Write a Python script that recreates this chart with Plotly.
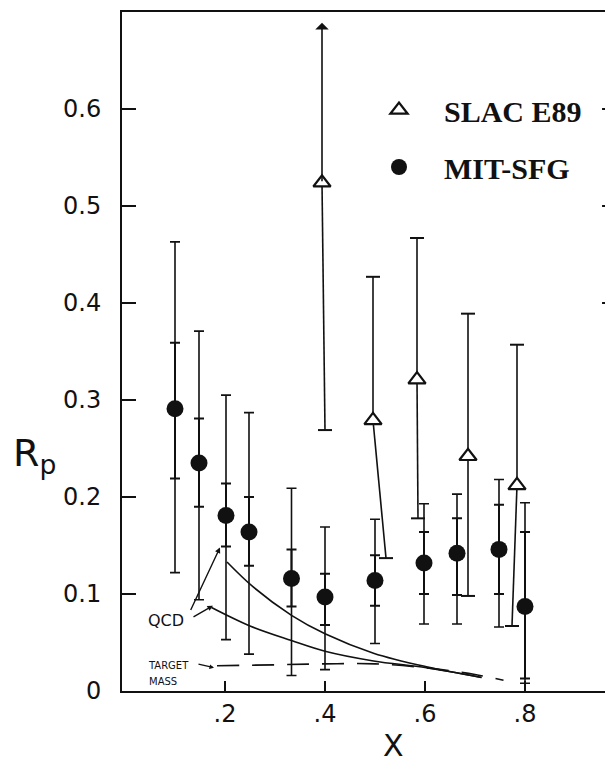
import plotly.graph_objects as go

# ---------------- data ----------------
# MIT-SFG (filled circles): x, value, outer error range, inner error range
mit_x = [0.10, 0.148, 0.202, 0.248, 0.333, 0.40, 0.50, 0.598, 0.664, 0.748, 0.80]
mit_y = [0.291, 0.235, 0.181, 0.164, 0.116, 0.097, 0.114, 0.132, 0.142, 0.146, 0.087]
mit_outer_hi = [0.463, 0.371, 0.305, 0.287, 0.209, 0.169, 0.177, 0.193, 0.203, 0.218, 0.194]
mit_outer_lo = [0.122, 0.094, 0.053, 0.038, 0.016, 0.022, 0.049, 0.069, 0.069, 0.066, 0.008]
mit_inner_hi = [0.359, 0.281, 0.214, 0.200, 0.146, 0.121, 0.140, 0.164, 0.178, 0.192, 0.164]
mit_inner_lo = [0.219, 0.190, 0.149, 0.129, 0.087, 0.068, 0.088, 0.100, 0.099, 0.100, 0.013]

# SLAC E89 (open triangles)
slac_x = [0.394, 0.496, 0.584, 0.686, 0.784]
slac_y = [0.524, 0.279, 0.321, 0.242, 0.212]
slac_hi = [0.689, 0.427, 0.467, 0.389, 0.357]
slac_hi_is_limit = [True, False, False, False, False]
slac_lo = [0.269, 0.137, 0.178, 0.098, 0.067]
slac_lo_x = [0.400, 0.522, 0.586, 0.686, 0.774]

# theory curves
qcd_upper_x = [0.204, 0.257, 0.333, 0.40, 0.497, 0.603, 0.713]
qcd_upper_y = [0.133, 0.107, 0.078, 0.059, 0.039, 0.025, 0.014]
qcd_lower_x = [0.173, 0.25, 0.333, 0.40, 0.497, 0.603, 0.713]
qcd_lower_y = [0.086, 0.067, 0.052, 0.041, 0.031, 0.024, 0.014]
tm_x = [0.184, 0.30, 0.40, 0.50, 0.60, 0.70, 0.757]
tm_y = [0.026, 0.027, 0.028, 0.028, 0.024, 0.017, 0.011]

# axis ticks
y_ticks = [0, 0.1, 0.2, 0.3, 0.4, 0.5, 0.6]
y_ticktext = ["0", "0.1", "0.2", "0.3", "0.4", "0.5", "0.6"]
x_ticks = [0.2, 0.4, 0.6, 0.8]
x_ticktext = [".2", ".4", ".6", ".8"]
right_ticks = [0.4, 0.5, 0.6]

INK = "#111111"
HAND = "DejaVu Sans"
SERIF = "Liberation Serif"

fig = go.Figure()

# theory curves
fig.add_trace(go.Scatter(x=qcd_upper_x, y=qcd_upper_y, mode="lines",
                         line=dict(color=INK, width=1.6, shape="spline"),
                         showlegend=False, hoverinfo="skip"))
fig.add_trace(go.Scatter(x=qcd_lower_x, y=qcd_lower_y, mode="lines",
                         line=dict(color=INK, width=1.6, shape="spline"),
                         showlegend=False, hoverinfo="skip"))
fig.add_trace(go.Scatter(x=tm_x, y=tm_y, mode="lines",
                         line=dict(color=INK, width=1.6, shape="spline", dash="22px,13px"),
                         showlegend=False, hoverinfo="skip"))

# MIT inner error ticks
fig.add_trace(go.Scatter(
    x=mit_x, y=mit_y, mode="markers", marker=dict(size=1, color="rgba(0,0,0,0)"),
    error_y=dict(type="data", symmetric=False,
                 array=[h - v for h, v in zip(mit_inner_hi, mit_y)],
                 arrayminus=[v - l for l, v in zip(mit_inner_lo, mit_y)],
                 color=INK, thickness=2, width=5),
    showlegend=False, hoverinfo="skip"))

# MIT outer error bars + markers
fig.add_trace(go.Scatter(
    x=mit_x, y=mit_y, mode="markers", name="MIT-SFG", legendgroup="b", legendrank=2,
    marker=dict(symbol="circle", size=17, color=INK),
    error_y=dict(type="data", symmetric=False,
                 array=[h - v for h, v in zip(mit_outer_hi, mit_y)],
                 arrayminus=[v - l for l, v in zip(mit_outer_lo, mit_y)],
                 color=INK, thickness=1.6, width=5)))

# SLAC error segments (upper, non-limit) and lower (possibly slanted)
seg_x, seg_y, cap_x, cap_y = [], [], [], []
for xi, yi, hi, lim, lo, lox in zip(slac_x, slac_y, slac_hi, slac_hi_is_limit, slac_lo, slac_lo_x):
    if not lim:
        seg_x += [xi, xi, None]
        seg_y += [yi, hi, None]
        cap_x.append(xi)
        cap_y.append(hi)
    seg_x += [xi, lox, None]
    seg_y += [yi, lo, None]
    cap_x.append(lox)
    cap_y.append(lo)

fig.add_trace(go.Scatter(x=seg_x, y=seg_y, mode="lines",
                         line=dict(color=INK, width=1.6),
                         showlegend=False, hoverinfo="skip"))
fig.add_trace(go.Scatter(x=cap_x, y=cap_y, mode="markers",
                         marker=dict(symbol="line-ew", size=10, line=dict(color=INK, width=2)),
                         showlegend=False, hoverinfo="skip"))

for xi, yi, hi, lim in zip(slac_x, slac_y, slac_hi, slac_hi_is_limit):
    if lim:
        fig.add_annotation(x=xi, y=hi, ax=xi, ay=yi, xref="x", yref="y",
                           axref="x", ayref="y", showarrow=True, arrowhead=1,
                           arrowsize=1.4, arrowwidth=1.6, arrowcolor=INK, text="")

fig.add_trace(go.Scatter(
    x=slac_x, y=slac_y, mode="markers", name="SLAC E89", legendgroup="a", legendrank=1,
    marker=dict(symbol="triangle-up", size=15, color="white",
                line=dict(color=INK, width=2.2))))

# right-hand frame ticks (the right frame line lies just beyond the picture)
for v in right_ticks:
    fig.add_shape(type="line", xref="paper", yref="y", x0=0.962, x1=1.0, y0=v, y1=v,
                  line=dict(color=INK, width=2))

# hand-written annotations
fig.add_annotation(x=0.082, y=0.073, xref="x", yref="y", text="QCD", showarrow=False,
                   font=dict(family=HAND, size=16, color=INK))
fig.add_annotation(x=0.19, y=0.148, xref="x", yref="y", ax=-30, ay=64, text="",
                   showarrow=True, arrowhead=2, arrowsize=0.8, arrowwidth=1.4, arrowcolor=INK)
fig.add_annotation(x=0.176, y=0.088, xref="x", yref="y", ax=-21, ay=12, text="",
                   showarrow=True, arrowhead=2, arrowsize=0.8, arrowwidth=1.4, arrowcolor=INK)
fig.add_annotation(x=0.086, y=0.026, xref="x", yref="y", text="TARGET", showarrow=False,
                   font=dict(family=HAND, size=10, color=INK))
fig.add_annotation(x=0.076, y=0.010, xref="x", yref="y", text="MASS", showarrow=False,
                   font=dict(family=HAND, size=10, color=INK))
fig.add_annotation(x=0.178, y=0.024, xref="x", yref="y", ax=-17, ay=-4, text="",
                   showarrow=True, arrowhead=2, arrowsize=0.7, arrowwidth=1.3, arrowcolor=INK)

# axis titles
fig.add_annotation(x=-0.176, y=(691 - 455) / 679, xref="paper", yref="paper",
                   xanchor="center", yanchor="middle",
                   text="R<sub>p</sub>", showarrow=False,
                   font=dict(family=HAND, size=38, color=INK))
fig.add_annotation(x=0.545, y=-0.081, xref="paper", yref="paper", text="X",
                   xanchor="center", yanchor="middle",
                   showarrow=False, font=dict(family=HAND, size=30, color=INK))

fig.update_layout(
    width=613, height=769,
    margin=dict(l=114, r=0, t=4, b=86),
    paper_bgcolor="white", plot_bgcolor="white",
    xaxis=dict(range=[-0.006, 0.992], showgrid=False, zeroline=False,
               showline=True, linewidth=2, linecolor=INK, mirror=True,
               ticks="inside", ticklen=10, tickwidth=2, tickcolor=INK,
               tickvals=x_ticks, ticktext=x_ticktext,
               tickfont=dict(family=HAND, size=24, color=INK),
               ticklabelstandoff=0),
    yaxis=dict(range=[0, 0.7], showgrid=False, zeroline=False,
               showline=True, linewidth=2, linecolor=INK, mirror=False,
               ticks="inside", ticklen=14, tickwidth=2, tickcolor=INK,
               tickvals=y_ticks, ticktext=y_ticktext,
               tickfont=dict(family=HAND, size=24, color=INK),
               ticklabelstandoff=14),
    showlegend=True,
    legend=dict(x=(346 - 114) / 499, xanchor="left", y=0.894, yanchor="top",
                itemwidth=80, tracegroupgap=15, traceorder="grouped",
                font=dict(family=SERIF, size=30, color=INK, weight="bold"),
                bgcolor="rgba(0,0,0,0)"),
)

fig.write_html("out.html")
